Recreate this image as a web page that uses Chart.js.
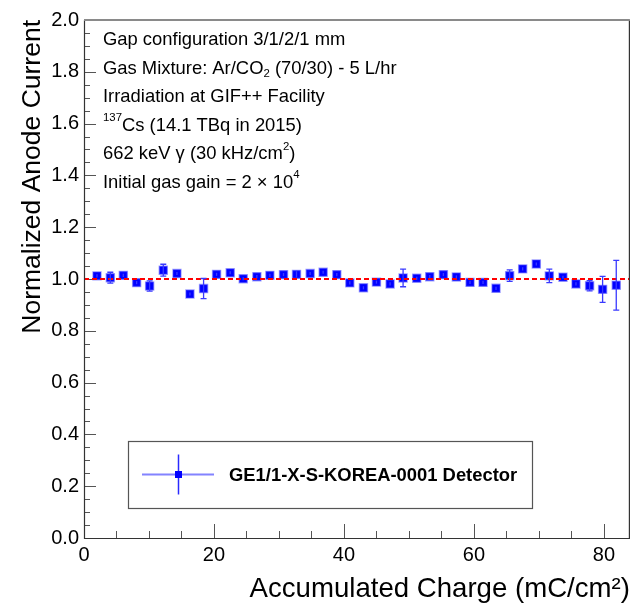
<!DOCTYPE html>
<html>
<head>
<meta charset="utf-8">
<script src="https://cdn.jsdelivr.net/npm/chart.js@4.4.1/dist/chart.umd.min.js"></script>
<style>
  html, body { margin: 0; padding: 0; background: #fff; }
  #wrap { width: 637px; height: 609px; }
</style>
</head>
<body>
<div id="wrap"><canvas id="aging-canvas" width="637" height="609"></canvas></div>
<script>
// accumulated charge (mC/cm2) for each measurement
const charge = [2.0, 4.05, 6.05, 8.1, 10.1, 12.2, 14.3, 16.3, 18.4, 20.4,
    22.5, 24.5, 26.6, 28.6, 30.7, 32.7, 34.8, 36.8, 38.9, 40.9,
    43.0, 45.0, 47.1, 49.1, 51.2, 53.2, 55.3, 57.3, 59.4, 61.4,
    63.4, 65.5, 67.5, 69.6, 71.6, 73.7, 75.7, 77.8, 79.8, 81.9];
// normalized anode current
const current = [1.012, 1.005, 1.014, 0.986, 0.973, 1.034, 1.021, 0.942, 0.963, 1.018,
    1.024, 1.001, 1.009, 1.014, 1.017, 1.018, 1.021, 1.026, 1.017, 0.985,
    0.966, 0.988, 0.981, 1.004, 1.003, 1.009, 1.017, 1.008, 0.987, 0.987,
    0.964, 1.013, 1.039, 1.058, 1.012, 1.007, 0.981, 0.974, 0.960, 0.976];
// vertical error on the current
const currentErr = [0.006, 0.021, 0.006, 0.006, 0.020, 0.023, 0.006, 0.006, 0.039, 0.006,
    0.006, 0.006, 0.006, 0.006, 0.006, 0.012, 0.006, 0.006, 0.006, 0.006,
    0.006, 0.006, 0.006, 0.034, 0.006, 0.006, 0.006, 0.006, 0.006, 0.006,
    0.006, 0.022, 0.006, 0.006, 0.026, 0.006, 0.006, 0.020, 0.050, 0.096];

const refLineX = [0, 84];
const refValue = 1.0;

const xRange = [0, 84];
const yRange = [0, 2];

const seriesLabel = 'GE1/1-X-S-KOREA-0001 Detector';

// text box lines, as [text, 'sup' | 'sub' | undefined] pieces
const infoLines = [
    [['Gap configuration 3/1/2/1 mm']],
    [['Gas Mixture: Ar/CO'], ['2', 'sub'], [' (70/30) - 5 L/hr']],
    [['Irradiation at GIF++ Facility']],
    [['137', 'sup'], ['Cs (14.1 TBq in 2015)']],
    [['662 keV \u03b3 (30 kHz/cm'], ['2', 'sup'], [')']],
    [['Initial gas gain = 2 \u00d7 10'], ['4', 'sup']],
];

const FONT = 'Liberation Sans, Arial, sans-serif';

function drawPieces(ctx, pieces, x, y, size, weight) {
    pieces.forEach(([text, mode]) => {
        let s = size, dy = 0;
        if (mode === 'sup') { s = size * 0.62; dy = -size * 0.42; }
        if (mode === 'sub') { s = size * 0.62; dy = size * 0.28; }
        ctx.font = `${weight || ''} ${s}px ${FONT}`;
        ctx.fillText(text, x, y + dy);
        x += ctx.measureText(text).width;
    });
}

const errorBars = {
    id: 'errorBars',
    afterDatasetsDraw(chart) {
        const {ctx, scales: {x, y}} = chart;
        ctx.save();
        ctx.strokeStyle = '#3a3aff';
        ctx.lineWidth = 1.3;
        charge.forEach((c, i) => {
            const px = x.getPixelForValue(c);
            const top = y.getPixelForValue(current[i] + currentErr[i]);
            const bot = y.getPixelForValue(current[i] - currentErr[i]);
            ctx.beginPath();
            ctx.moveTo(px, top); ctx.lineTo(px, bot);
            if (currentErr[i] > 0.015) {
                ctx.moveTo(px - 3, top); ctx.lineTo(px + 3, top);
                ctx.moveTo(px - 3, bot); ctx.lineTo(px + 3, bot);
            }
            ctx.stroke();
        });
        ctx.restore();
    }
};

const frameAndExtras = {
    id: 'frameAndExtras',
    beforeDatasetsDraw(chart) {
        const {ctx, chartArea: a, scales: {x, y}} = chart;
        ctx.save();
        ctx.strokeStyle = '#555';
        ctx.lineWidth = 1;
        ctx.beginPath();
        for (let v = yRange[0]; v <= yRange[1] + 1e-9; v += 0.05) {
            const py = Math.round(y.getPixelForValue(v)) + 0.5;
            const major = Math.abs(v / 0.2 - Math.round(v / 0.2)) < 1e-6;
            ctx.moveTo(a.left, py); ctx.lineTo(a.left + (major ? 12 : 6), py);
        }
        for (let v = xRange[0]; v <= xRange[1] + 1e-9; v += 5) {
            const px = Math.round(x.getPixelForValue(v)) + 0.5;
            const major = v % 20 === 0;
            ctx.moveTo(px, a.bottom); ctx.lineTo(px, a.bottom - (major ? 14 : 7));
        }
        ctx.stroke();

        // info text
        ctx.fillStyle = '#000';
        ctx.textBaseline = 'middle';
        ctx.textAlign = 'left';
        infoLines.forEach((line, i) => {
            drawPieces(ctx, line, a.left + 19, a.top + 20 + i * 28.6, 18.4);
        });
        ctx.restore();
    },
    afterDraw(chart) {
        const {ctx, chartArea: a} = chart;
        ctx.save();
        // frame
        ctx.lineWidth = 1.2;
        ctx.strokeStyle = '#333';
        ctx.beginPath();
        ctx.moveTo(a.left + 0.5, a.top); ctx.lineTo(a.left + 0.5, a.bottom + 0.5);
        ctx.lineTo(a.right - 0.5, a.bottom + 0.5); ctx.lineTo(a.right - 0.5, a.top);
        ctx.stroke();
        ctx.strokeStyle = '#8a8a8a';
        ctx.lineWidth = 2;
        ctx.beginPath();
        ctx.moveTo(a.left, a.top); ctx.lineTo(a.right, a.top);
        ctx.stroke();

        // legend box
        const x0 = a.left + 44, x1 = a.left + 448;
        const y0 = a.top + 421, y1 = a.top + 488;
        const cy = (y0 + y1) / 2;
        ctx.fillStyle = '#fff';
        ctx.fillRect(x0, y0, x1 - x0, y1 - y0);
        ctx.strokeStyle = '#555';
        ctx.lineWidth = 1.2;
        ctx.strokeRect(x0 + 0.5, y0 + 0.5, x1 - x0, y1 - y0);
        const mx = x0 + 50.5;
        ctx.strokeStyle = 'rgba(90,90,255,0.75)';
        ctx.lineWidth = 2;
        ctx.beginPath();
        ctx.moveTo(x0 + 14, cy); ctx.lineTo(x0 + 86, cy);
        ctx.stroke();
        ctx.strokeStyle = '#2a2aff';
        ctx.lineWidth = 1.5;
        ctx.beginPath();
        ctx.moveTo(mx, cy - 20); ctx.lineTo(mx, cy + 20);
        ctx.stroke();
        ctx.fillStyle = '#0000ff';
        ctx.fillRect(mx - 3.5, cy - 3.5, 7, 7);
        ctx.fillStyle = '#000';
        ctx.textBaseline = 'middle';
        drawPieces(ctx, [[seriesLabel]], x0 + 101, cy + 1, 18.4, 'bold');
        ctx.restore();
    }
};

new Chart(document.getElementById('aging-canvas'), {
    type: 'scatter',
    plugins: [frameAndExtras, errorBars],
    data: {
        datasets: [
            {
                type: 'line',
                label: 'reference',
                data: refLineX.map(v => ({x: v, y: refValue})),
                borderColor: '#ff0000',
                borderWidth: 2.2,
                borderDash: [5, 3],
                pointRadius: 0,
            }, {
                type: 'scatter',
                label: seriesLabel,
                data: charge.map((c, i) => ({x: c, y: current[i]})),
                pointStyle: 'rect',
                pointRadius: 5.6,
                backgroundColor: '#0000ff',
                borderColor: 'rgba(70,70,255,0.5)',
                borderWidth: 1.5,
            },
        ]
    },
    options: {
        responsive: false,
        animation: false,
        layout: {
            padding: {top: 20, right: 6, left: 0, bottom: 0}
        },
        plugins: {
            legend: {display: false},
            tooltip: {enabled: false},
        },
        scales: {
            x: {
                type: 'linear',
                min: xRange[0],
                max: xRange[1],
                afterFit: (scale) => { scale.height = 71; },
                grid: {display: false, drawTicks: false},
                border: {display: false},
                ticks: {
                    stepSize: 20,
                    includeBounds: false,
                    padding: 5,
                    color: '#000',
                    font: {family: FONT, size: 20},
                    callback: (value) => (value % 20 === 0 ? value : ''),
                },
                title: {
                    display: true,
                    text: 'Accumulated Charge (mC/cm\u00b2)',
                    align: 'end',
                    color: '#000',
                    font: {family: FONT, size: 27.6},
                    padding: {top: 3, bottom: 3},
                },
            },
            y: {
                type: 'linear',
                min: yRange[0],
                max: yRange[1],
                afterFit: (scale) => { scale.width = 84; },
                grid: {display: false, drawTicks: false},
                border: {display: false},
                ticks: {
                    stepSize: 0.2,
                    padding: 5,
                    color: '#000',
                    font: {family: FONT, size: 20},
                    callback: (value) => value.toFixed(1),
                },
                title: {
                    display: true,
                    text: 'Normalized Anode Current',
                    align: 'end',
                    color: '#000',
                    font: {family: FONT, size: 26.5},
                    padding: {top: 17, bottom: 17},
                },
            }
        }
    }
});
</script>
</body>
</html>
